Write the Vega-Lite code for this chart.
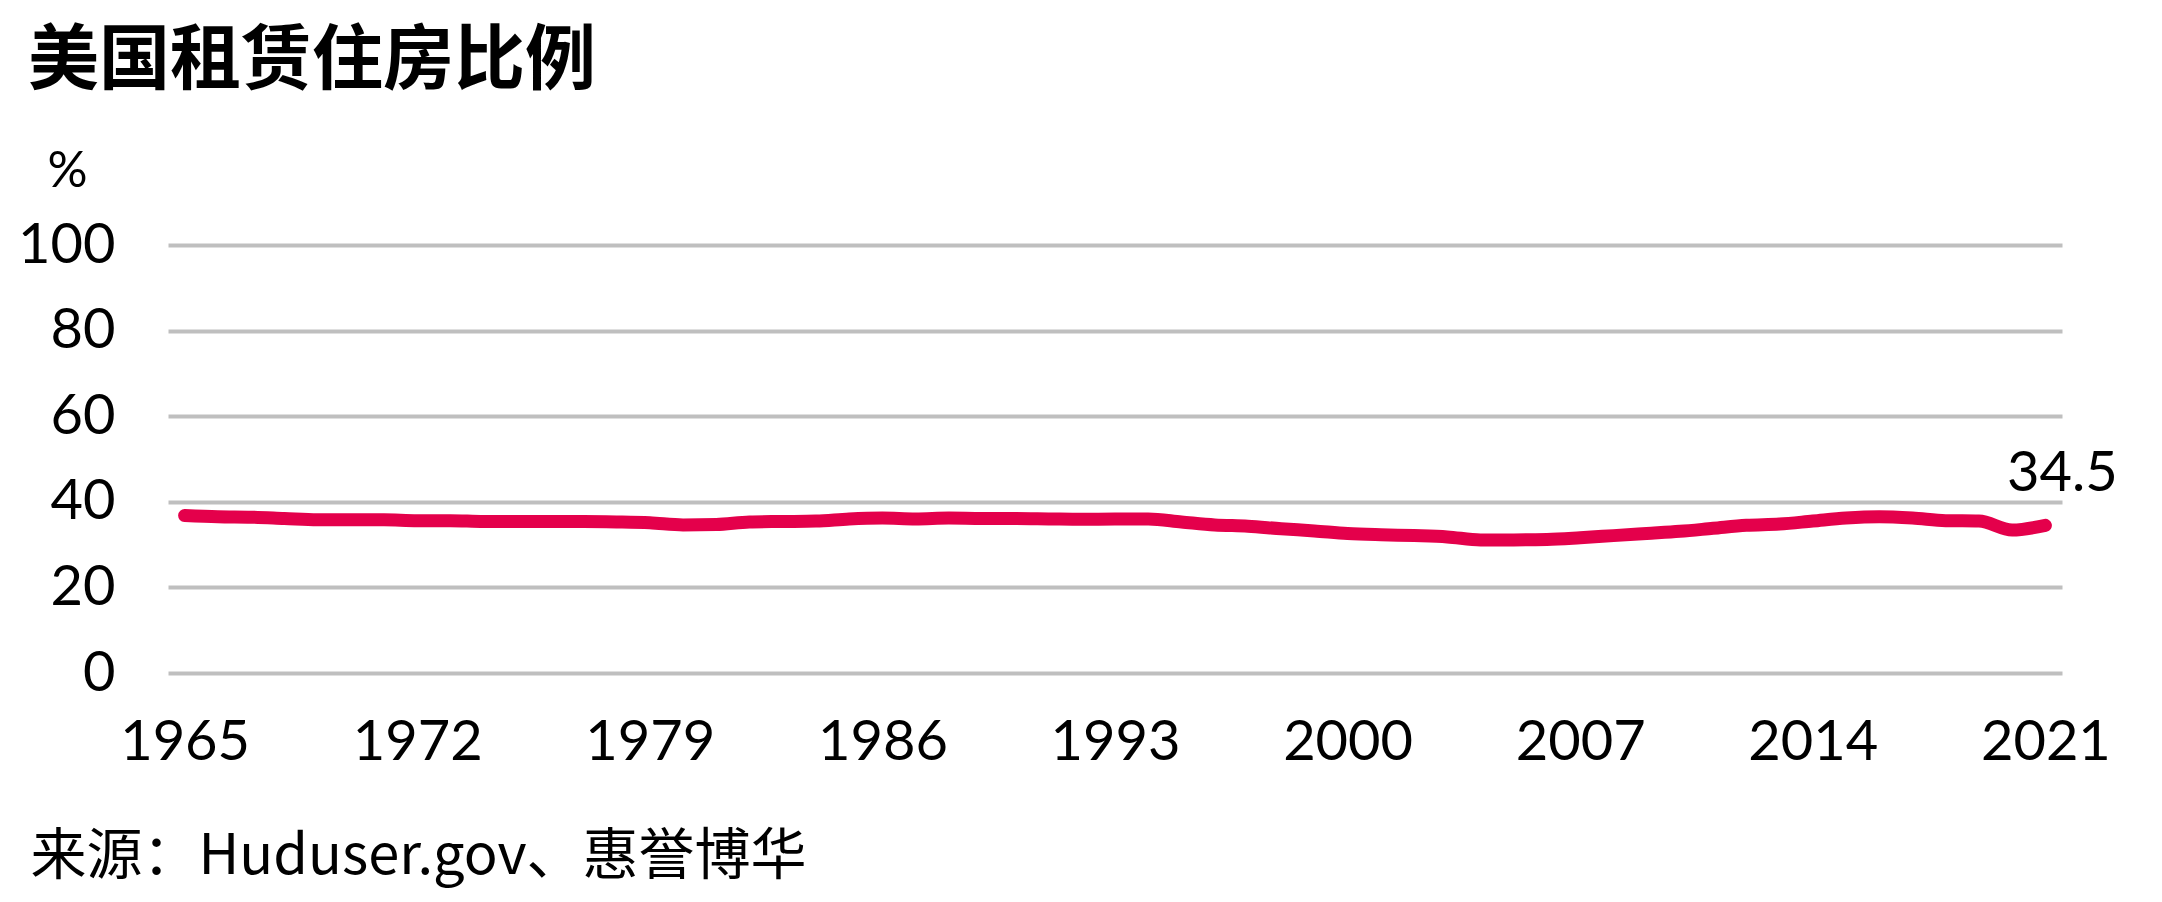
{
  "$schema": "https://vega.github.io/schema/vega-lite/v6.json",
  "autosize": {"type": "none"},
  "width": 1894,
  "height": 428,
  "padding": {"left": 168, "top": 245, "right": 100, "bottom": 229},
  "background": "white",
  "title": {
    "text": "美国租赁住房比例",
    "anchor": "start",
    "frame": "group",
    "font": "Noto Sans CJK SC",
    "fontSize": 71,
    "fontWeight": "bold",
    "color": "#000000",
    "dx": -140,
    "offset": 48
  },
  "data": {
    "values": [
      {"year": 1965, "value": 36.8},
      {"year": 1966, "value": 36.5},
      {"year": 1967, "value": 36.4},
      {"year": 1968, "value": 36.1},
      {"year": 1969, "value": 35.8},
      {"year": 1970, "value": 35.8},
      {"year": 1971, "value": 35.8},
      {"year": 1972, "value": 35.6},
      {"year": 1973, "value": 35.6},
      {"year": 1974, "value": 35.4},
      {"year": 1975, "value": 35.4},
      {"year": 1976, "value": 35.4},
      {"year": 1977, "value": 35.4},
      {"year": 1978, "value": 35.3},
      {"year": 1979, "value": 35.1},
      {"year": 1980, "value": 34.6},
      {"year": 1981, "value": 34.7},
      {"year": 1982, "value": 35.3},
      {"year": 1983, "value": 35.4},
      {"year": 1984, "value": 35.5},
      {"year": 1985, "value": 36.0},
      {"year": 1986, "value": 36.2},
      {"year": 1987, "value": 36.0},
      {"year": 1988, "value": 36.2},
      {"year": 1989, "value": 36.1},
      {"year": 1990, "value": 36.1},
      {"year": 1991, "value": 36.0},
      {"year": 1992, "value": 35.9},
      {"year": 1993, "value": 36.0},
      {"year": 1994, "value": 36.0},
      {"year": 1995, "value": 35.3},
      {"year": 1996, "value": 34.6},
      {"year": 1997, "value": 34.3},
      {"year": 1998, "value": 33.7},
      {"year": 1999, "value": 33.2},
      {"year": 2000, "value": 32.6},
      {"year": 2001, "value": 32.3},
      {"year": 2002, "value": 32.1},
      {"year": 2003, "value": 31.8},
      {"year": 2004, "value": 31.1},
      {"year": 2005, "value": 31.1},
      {"year": 2006, "value": 31.2},
      {"year": 2007, "value": 31.6},
      {"year": 2008, "value": 32.1},
      {"year": 2009, "value": 32.6},
      {"year": 2010, "value": 33.1},
      {"year": 2011, "value": 33.8},
      {"year": 2012, "value": 34.5},
      {"year": 2013, "value": 34.8},
      {"year": 2014, "value": 35.5},
      {"year": 2015, "value": 36.2},
      {"year": 2016, "value": 36.5},
      {"year": 2017, "value": 36.2},
      {"year": 2018, "value": 35.6},
      {"year": 2019, "value": 35.5},
      {"year": 2020, "value": 33.4},
      {"year": 2021, "value": 34.5}
    ]
  },
  "config": {
    "view": {"stroke": null},
    "axis": {
      "labelFont": "Lato",
      "labelFontSize": 56,
      "labelColor": "#000000",
      "titleFont": "Lato",
      "titleColor": "#000000",
      "titleFontWeight": "normal",
      "domain": false,
      "ticks": false
    }
  },
  "encoding": {
    "x": {
      "field": "year",
      "type": "ordinal",
      "scale": {"type": "point", "padding": 0.5},
      "axis": {
        "values": [1965, 1972, 1979, 1986, 1993, 2000, 2007, 2014, 2021],
        "labelAngle": 0,
        "labelPadding": 42,
        "grid": false,
        "title": "来源：Huduser.gov、惠誉博华",
        "titleFont": "Noto Sans CJK SC",
        "titleFontSize": 56,
        "titleAnchor": "start",
        "titleAlign": "left",
        "titleBaseline": "alphabetic",
        "titleX": -138,
        "titleY": 200
      }
    },
    "y": {
      "field": "value",
      "type": "quantitative",
      "scale": {"domain": [0, 100]},
      "axis": {
        "values": [0, 20, 40, 60, 80, 100],
        "grid": true,
        "gridColor": "#BFBFBF",
        "gridWidth": 4,
        "labelPadding": 53,
        "labelBaseline": "middle",
        "title": "%",
        "titleAngle": 0,
        "titleFontSize": 50,
        "titleAlign": "center",
        "titleBaseline": "middle",
        "titleX": -101,
        "titleY": -74
      }
    }
  },
  "layer": [
    {
      "mark": {
        "type": "line",
        "color": "#E4004B",
        "strokeWidth": 13,
        "strokeCap": "round",
        "strokeJoin": "round",
        "interpolate": "monotone"
      }
    },
    {
      "transform": [{"filter": "datum.year == 2021"}],
      "mark": {
        "type": "text",
        "font": "Lato",
        "fontSize": 56,
        "color": "#000000",
        "align": "center",
        "baseline": "alphabetic",
        "dx": 17,
        "dy": -34
      },
      "encoding": {
        "text": {"field": "value", "type": "quantitative", "format": ".1f"}
      }
    }
  ]
}
